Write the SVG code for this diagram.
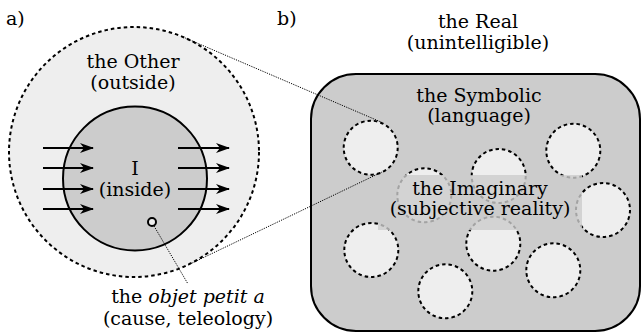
<svg xmlns="http://www.w3.org/2000/svg" width="642" height="333" viewBox="0 0 642 333">
<defs>
<marker id="arr" viewBox="0 0 14 10" refX="13" refY="5" markerWidth="14" markerHeight="10" markerUnits="userSpaceOnUse" orient="auto">
<path d="M0,0 L14,5 L0,10 L4,5 Z" fill="#000"/>
</marker>
</defs>
<style>
text{font-family:"DejaVu Serif","DejaVu Sans",serif;font-size:19px;fill:#000;text-anchor:middle}
.lab{text-anchor:start}
.dc{fill:#eee;stroke:#000;stroke-width:2;stroke-dasharray:3.5 3}
.dot{stroke:#000;stroke-width:1;stroke-dasharray:1.2 1.2;fill:none}
.ar{stroke:#000;stroke-width:1.8;marker-end:url(#arr)}
</style>
<rect width="642" height="333" fill="#fff"/>
<text class="lab" x="6" y="25">a)</text>
<text class="lab" x="277" y="25">b)</text>
<g id="other">
<circle cx="134" cy="152" r="125" class="dc"/>
<text x="133" y="68">the Other</text>
<text x="133" y="89">(outside)</text>
</g>
<g id="inside">
<circle cx="135" cy="178.5" r="72" fill="#ccc" stroke="#000" stroke-width="2"/>
<text x="135" y="175">I</text>
<text x="135" y="196">(inside)</text>
</g>
<g id="objet">
<circle cx="152" cy="222" r="4" fill="#eee" stroke="#000" stroke-width="2"/>
<text x="188" y="303">the <tspan font-style="italic">objet petit a</tspan></text>
<text x="188" y="325">(cause, teleology)</text>
</g>
<g id="real">
<text x="478" y="28">the Real</text>
<text x="478" y="49">(unintelligible)</text>
</g>
<g id="symbolic">
<rect x="311" y="74" width="329" height="257" rx="45" ry="45" fill="#ccc" stroke="#000" stroke-width="2"/>
<text x="479" y="102">the Symbolic</text>
<text x="479" y="122">(language)</text>
</g>
<g id="imaginary">
<circle cx="370.7" cy="147.7" r="27" class="dc"/>
<circle cx="573.3" cy="150.7" r="27" class="dc"/>
<circle cx="498.7" cy="176" r="27" class="dc"/>
<circle cx="424.3" cy="195.3" r="27" class="dc"/>
<circle cx="603" cy="210" r="27" class="dc"/>
<circle cx="371.3" cy="250" r="27" class="dc"/>
<circle cx="493.3" cy="243.7" r="27" class="dc"/>
<circle cx="553.3" cy="270.3" r="27" class="dc"/>
<circle cx="445.3" cy="291.3" r="27" class="dc"/>
<rect x="378" y="175" width="204" height="55" fill="#ccc" opacity="0.8"/>
<text x="480" y="195">the Imaginary</text>
<text x="480" y="215">(subjective reality)</text>
</g>
<g id="connectors">
<line class="dot" x1="183" y1="37" x2="381" y2="122"/>
<line class="dot" x1="188" y1="265" x2="382" y2="172"/>
<line class="dot" x1="154" y1="226" x2="188" y2="284"/>
<line class="ar" x1="43" y1="148" x2="93" y2="148"/>
<line class="ar" x1="43" y1="168" x2="93" y2="168"/>
<line class="ar" x1="43" y1="189" x2="93" y2="189"/>
<line class="ar" x1="43" y1="209" x2="93" y2="209"/>
<line class="ar" x1="178" y1="148" x2="229" y2="148"/>
<line class="ar" x1="178" y1="168" x2="229" y2="168"/>
<line class="ar" x1="178" y1="189" x2="229" y2="189"/>
<line class="ar" x1="178" y1="209" x2="229" y2="209"/>
</g>
</svg>
